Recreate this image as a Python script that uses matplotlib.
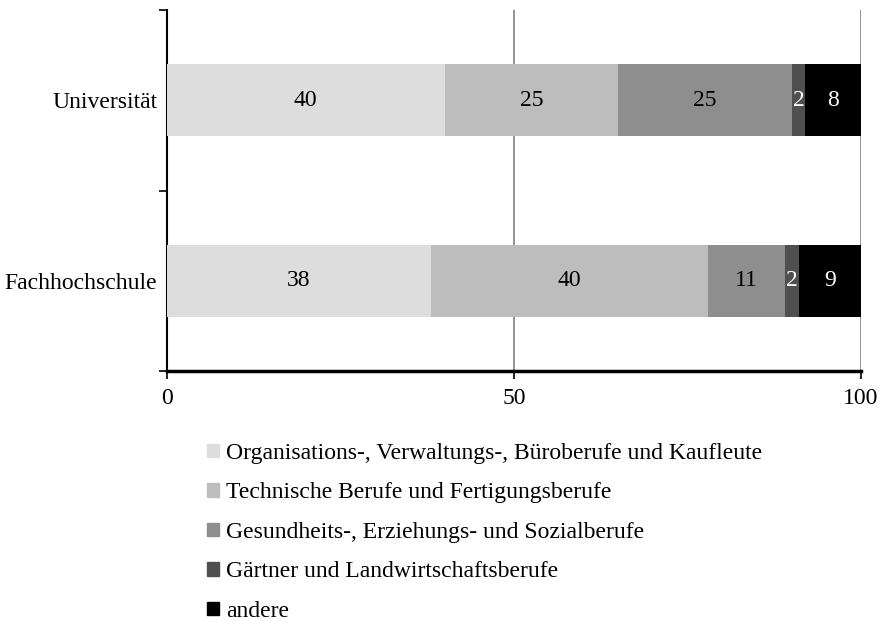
import numpy as np
import matplotlib
matplotlib.use("Agg")
import matplotlib.pyplot as plt
from matplotlib.patches import Patch

plt.rcParams['font.family'] = ['Liberation Serif', 'DejaVu Serif']

# DATA
categories = ["Universität", "Fachhochschule"]
series_names = [
    "Organisations-, Verwaltungs-, Büroberufe und Kaufleute",
    "Technische Berufe und Fertigungsberufe",
    "Gesundheits-, Erziehungs- und Sozialberufe",
    "Gärtner und Landwirtschaftsberufe",
    "andere",
]
values = [
    [40, 38],
    [25, 40],
    [25, 11],
    [2, 2],
    [8, 9],
]
colors = ["#dddddd", "#bdbdbd", "#8e8e8e", "#4f4f4f", "#000000"]
text_colors = ["black", "black", "black", "white", "white"]
xticks = [0, 50, 100]
fs = 17

# FIGURE
fig = plt.figure(figsize=(8.82, 6.21), dpi=100)
ax = fig.add_axes([167 / 882, 1 - 371 / 621, (861 - 167) / 882, 361 / 621])

y = np.array([1, 0])
left = np.zeros(len(categories))
for i, name in enumerate(series_names):
    vals = np.array(values[i], dtype=float)
    ax.barh(y, vals, left=left, height=0.4, color=colors[i], label=name, zorder=3)
    for j in range(len(categories)):
        ax.text(left[j] + vals[j] / 2, y[j], str(values[i][j]), ha='center', va='center',
                color=text_colors[i], fontsize=fs, zorder=4)
    left += vals

ax.set_xlim(0, 100)
ax.set_ylim(-0.5, 1.5)
ax.set_xticks(xticks)
ax.set_xticklabels([str(t) for t in xticks], fontsize=fs)
ax.set_yticks(y)
ax.set_yticklabels(categories, fontsize=fs)
ax.tick_params(axis='y', length=0, pad=7)
ax.set_yticks([-0.5, 0.5, 1.5], minor=True)
ax.tick_params(axis='y', which='minor', length=6, width=1.2, direction='out')
ax.tick_params(axis='x', length=6, width=1.2, direction='out', pad=6)

ax.xaxis.grid(True, color='#808080', linewidth=1.2, zorder=0)
for s in ['top', 'right']:
    ax.spines[s].set_visible(False)
ax.spines['left'].set_linewidth(1.5)
ax.spines['bottom'].set_linewidth(2.5)

handles = [Patch(color=c) for c in colors]
fig.legend(handles, series_names, loc='upper left', bbox_to_anchor=(207 / 882, 1 - 443 / 621),
           frameon=False, fontsize=fs, handlelength=0.5, handleheight=0.5,
           handletextpad=0.3, labelspacing=0.78, borderpad=0, borderaxespad=0)

fig.savefig("out.png", dpi=100)
